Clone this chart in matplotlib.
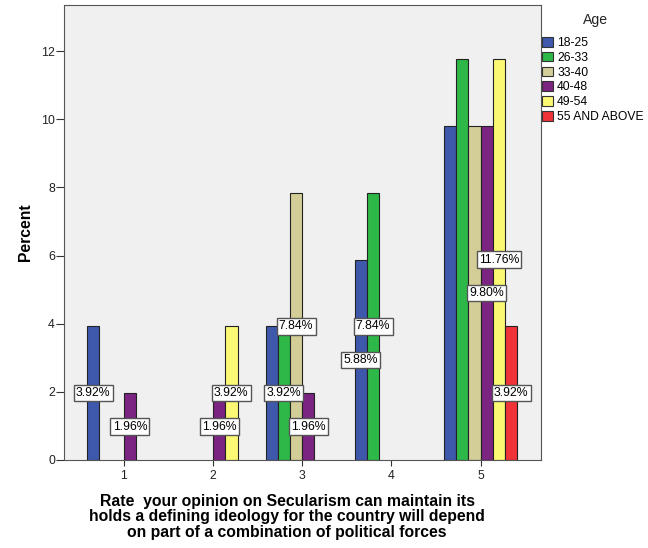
import matplotlib
matplotlib.use("Agg")
import matplotlib.pyplot as plt
import numpy as np

plt.rcParams['font.family'] = ['Liberation Sans', 'DejaVu Sans']

categories = ["1", "2", "3", "4", "5"]
age_groups = ["18-25", "26-33", "33-40", "40-48", "49-54", "55 AND ABOVE"]
colors = ["#3E58AC", "#2EB848", "#D3CE97", "#7B2481", "#FBF873", "#EF3338"]

# percent values per age group across categories 1..5 (0 = no bar)
v_18_25 = [3.92, 0, 3.92, 5.88, 9.80]
v_26_33 = [0, 0, 3.92, 7.84, 11.76]
v_33_40 = [0, 0, 7.84, 0, 9.80]
v_40_48 = [1.96, 1.96, 1.96, 0, 9.80]
v_49_54 = [0, 3.92, 0, 0, 11.76]
v_55_up = [0, 0, 0, 0, 3.92]
series = [v_18_25, v_26_33, v_33_40, v_40_48, v_49_54, v_55_up]

yticks = [0, 2, 4, 6, 8, 10, 12]

fig = plt.figure(figsize=(6.48, 5.48), dpi=100)
ax = fig.add_axes([64/648, 1-460/548, (541-64)/648, (460-5)/548])
ax.set_facecolor("#F0F0F0")

x = np.arange(1, len(categories)+1)
w = 0.137
n = len(series)
for i, (vals, c, lab) in enumerate(zip(series, colors, age_groups)):
    pos = x + (i - (n-1)/2) * w
    vals_arr = np.array(vals, dtype=float)
    mask = vals_arr > 0
    ax.bar(pos[mask], vals_arr[mask], width=w, color=c, edgecolor="#222222",
           linewidth=0.8, label=lab, zorder=2)

# data labels: one per distinct value in each category (last bar carrying it)
for j in range(len(categories)):
    chosen = {}
    for i, vals in enumerate(series):
        if vals[j] > 0:
            chosen[vals[j]] = i
    for val, i in chosen.items():
        px = x[j] + (i - (n-1)/2) * w
        ax.text(px, val/2, f"{val:.2f}%", ha="center", va="center", fontsize=8.8,
                zorder=5,
                bbox=dict(boxstyle="square,pad=0.18", facecolor="white",
                          edgecolor="#555555", linewidth=1.0))

ax.set_xlim(0.329, 5.676)
ax.set_ylim(0, 13.35)
ax.set_xticks(x)
ax.set_xticklabels(categories, fontsize=8.8)
ax.set_yticks(yticks)
ax.set_yticklabels([str(t) for t in yticks], fontsize=8.9)
ax.tick_params(axis='both', direction='out', width=0.8, colors="#333333",
               labelcolor="#222222")
ax.tick_params(axis='y', length=5.5, pad=1)
ax.tick_params(axis='x', length=4.5, pad=3)
for s in ax.spines.values():
    s.set_color("#555555")
    s.set_linewidth(0.8)

ax.set_ylabel("Percent", fontsize=11.3, fontweight="bold", labelpad=6)

fig.text(287/648, 1-517/548,
         "Rate  your opinion on Secularism can maintain its\n"
         "holds a defining ideology for the country will depend\n"
         "on part of a combination of political forces",
         ha="center", va="center", fontsize=11.3, fontweight="bold",
         linespacing=1.06)

fig.text(595/648, 1-20/548, "Age", ha="center", va="center", fontsize=10.1,
         color="#222222")
leg = ax.legend(loc="upper left", bbox_to_anchor=(542/648, 1-37/548),
                bbox_transform=fig.transFigure, frameon=False, fontsize=8.7,
                handlelength=0.95, handleheight=0.85, handletextpad=0.3,
                labelspacing=0.23, borderpad=0.0, borderaxespad=0)
for h in leg.legend_handles:
    h.set_edgecolor("#333333")

fig.savefig("out.png", dpi=100, facecolor="white")
